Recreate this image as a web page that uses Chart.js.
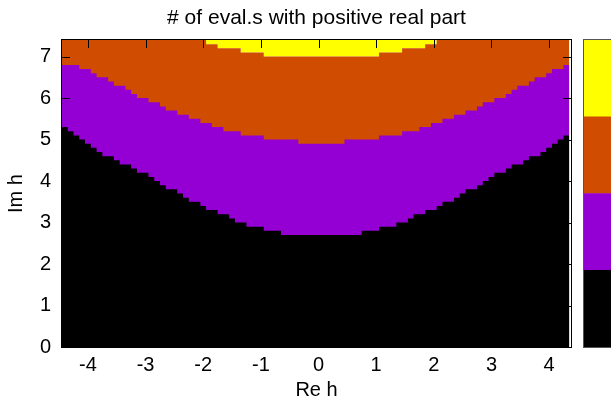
<!DOCTYPE html>
<html>
<head>
<meta charset="utf-8">
<script src="https://cdn.jsdelivr.net/npm/chart.js@4.4.0/dist/chart.umd.min.js"></script>
<style>
    html, body { margin: 0; padding: 0; background: #fff; }
    #wrap { position: relative; width: 611px; height: 405px; }
    #main { position: absolute; left: 0; top: 0; }
    #cbar { position: absolute; left: 584px; top: 40px; box-shadow: 0 0 0 1px #555; }
</style>
</head>
<body>
<div id="wrap">
    <canvas id="main" width="611" height="405"></canvas>
    <canvas id="cbar" width="27" height="307"></canvas>
</div>
<script>
// Re h where each step starts; the last step runs to xEnd
const xEnd = 4.35;

// upper edge of the 0-count (black) region
const blackTopX = [-4.45, -4.35, -4.25, -4.15, -4.05, -3.95, -3.85, -3.75, -3.55, -3.45,
    -3.25, -3.15, -2.95, -2.85, -2.75, -2.65, -2.45, -2.35, -2.25, -2.05,
    -1.95, -1.75, -1.55, -1.45, -1.25, -0.95, -0.65, 0.75, 1.05, 1.35,
    1.55, 1.65, 1.85, 2.05, 2.15, 2.35, 2.45, 2.55, 2.75, 2.85,
    2.95, 3.05, 3.25, 3.35, 3.55, 3.65, 3.85, 3.95, 4.05, 4.15, 4.25];
const blackTopY = [5.3, 5.2, 5.1, 5.0, 4.9, 4.8, 4.7, 4.6, 4.5, 4.4,
    4.3, 4.2, 4.1, 4.0, 3.9, 3.8, 3.7, 3.6, 3.5, 3.4,
    3.3, 3.2, 3.1, 3.0, 2.9, 2.8, 2.7, 2.8, 2.9, 3.0,
    3.1, 3.2, 3.3, 3.4, 3.5, 3.6, 3.7, 3.8, 3.9, 4.0,
    4.1, 4.2, 4.3, 4.4, 4.5, 4.6, 4.7, 4.8, 4.9, 5.0, 5.1];

// upper edge of the 1-count (purple) region
const purpleTopX = [-4.45, -4.15, -3.95, -3.85, -3.65, -3.55, -3.35, -3.25, -3.15, -2.95,
    -2.75, -2.65, -2.45, -2.25, -2.05, -1.85, -1.65, -1.35, -0.95, -0.35,
    0.45, 1.05, 1.45, 1.75, 1.95, 2.15, 2.35, 2.55, 2.75, 2.85,
    3.05, 3.25, 3.35, 3.45, 3.65, 3.75, 3.95, 4.05, 4.25];
const purpleTopY = [6.8, 6.7, 6.6, 6.5, 6.4, 6.3, 6.2, 6.1, 6.0, 5.9,
    5.8, 5.7, 5.6, 5.5, 5.4, 5.3, 5.2, 5.1, 5.0, 4.9,
    5.0, 5.1, 5.2, 5.3, 5.4, 5.5, 5.6, 5.7, 5.8, 5.9,
    6.0, 6.1, 6.2, 6.3, 6.4, 6.5, 6.6, 6.7, 6.8];

// upper edge of the 2-count (orange) region, 7.4 = above the plot
const orangeTopX = [-4.45, -1.95, -1.75, -1.35, -0.95, 1.05, 1.45, 1.85, 2.05];
const orangeTopY = [7.4, 7.3, 7.2, 7.1, 7.0, 7.1, 7.2, 7.3, 7.4];

const levels = ['0', '1', '2', '3'];
const levelColors = ['#000000', '#9400d3', '#d04c00', '#ffff00'];

const FONT = "'Liberation Sans', Arial, sans-serif";

function steps(xs, ys) {
    const pts = xs.map((x, i) => ({ x, y: ys[i] }));
    pts.push({ x: xEnd, y: ys[ys.length - 1] });
    return pts;
}

function region(label, pts, color, fill) {
    return {
        label,
        data: pts,
        fill,
        backgroundColor: color,
        borderColor: color,
        borderWidth: 0,
        pointRadius: 0,
        stepped: 'before',
    };
}

// gnuplot style: inward ticks on all four sides and a frame
const frameTicks = {
    id: 'frameTicks',
    afterDatasetsDraw(chart) {
        const { ctx, chartArea: a, scales } = chart;
        const len = 8;
        ctx.save();
        ctx.strokeStyle = '#000';
        ctx.lineWidth = 1;
        ctx.beginPath();
        scales.x.ticks.forEach(t => {
            const px = Math.round(scales.x.getPixelForValue(t.value)) + 0.5;
            ctx.moveTo(px, a.bottom); ctx.lineTo(px, a.bottom - len);
            ctx.moveTo(px, a.top); ctx.lineTo(px, a.top + len);
        });
        scales.y.ticks.forEach(t => {
            const py = Math.round(scales.y.getPixelForValue(t.value)) + 0.5;
            ctx.moveTo(a.left, py); ctx.lineTo(a.left + len, py);
            ctx.moveTo(a.right, py); ctx.lineTo(a.right - len, py);
        });
        ctx.stroke();
        ctx.strokeRect(a.left - 0.5, a.top - 0.5, a.right - a.left + 1, a.bottom - a.top + 1);
        ctx.restore();
    }
};

new Chart(document.getElementById('main'), {
    type: 'line',
    data: {
        datasets: [
            region(levels[0], steps(blackTopX, blackTopY), levelColors[0], 'origin'),
            region(levels[1], steps(purpleTopX, purpleTopY), levelColors[1], 'origin'),
            region(levels[2], steps(orangeTopX, orangeTopY), levelColors[2], 'origin'),
            region(levels[3], steps(orangeTopX, orangeTopY), levelColors[3], 'end'),
        ],
    },
    options: {
        responsive: false,
        animation: false,
        layout: { padding: { left: 0, right: 40, top: 0, bottom: 0 } },
        plugins: {
            legend: { display: false },
            tooltip: { enabled: false },
            title: {
                display: true,
                fullSize: false,
                text: '# of eval.s with positive real part',
                color: '#000',
                font: { size: 21, family: FONT, weight: 'normal' },
                padding: { top: 6, bottom: 8.8 },
            },
        },
        scales: {
            x: {
                type: 'linear',
                min: -4.45,
                max: 4.38,
                afterFit: (axis) => { axis.height = 58; },
                ticks: {
                    stepSize: 1,
                    includeBounds: false,
                    color: '#000',
                    padding: 6,
                    maxRotation: 0,
                    font: { size: 20, family: FONT },
                },
                grid: { display: false, drawTicks: false },
                border: { display: false },
                title: {
                    display: true,
                    text: 'Re h',
                    color: '#000',
                    font: { size: 20, family: FONT },
                    padding: { top: 0, bottom: 3 },
                },
            },
            y: {
                min: 0,
                max: 7.4,
                afterFit: (axis) => { axis.width = 62; },
                ticks: {
                    stepSize: 1,
                    includeBounds: false,
                    color: '#000',
                    padding: 11,
                    font: { size: 20, family: FONT },
                },
                grid: { display: false, drawTicks: false },
                border: { display: false },
                title: {
                    display: true,
                    text: 'Im h',
                    color: '#000',
                    font: { size: 20, family: FONT },
                    padding: { top: 4, bottom: 0 },
                },
            },
        },
    },
    plugins: [frameTicks],
});

// colour box: one stacked bar, one segment per count
new Chart(document.getElementById('cbar'), {
    type: 'bar',
    data: {
        labels: [''],
        datasets: levels.map((lv, i) => ({
            label: lv,
            data: [1],
            backgroundColor: levelColors[i],
            borderWidth: 0,
            barPercentage: 1,
            categoryPercentage: 1,
        })),
    },
    options: {
        responsive: false,
        animation: false,
        layout: { padding: 0 },
        plugins: { legend: { display: false }, tooltip: { enabled: false } },
        scales: {
            x: { display: false, stacked: true },
            y: { display: false, stacked: true, min: 0, max: levels.length },
        },
    },
});
</script>
</body>
</html>
